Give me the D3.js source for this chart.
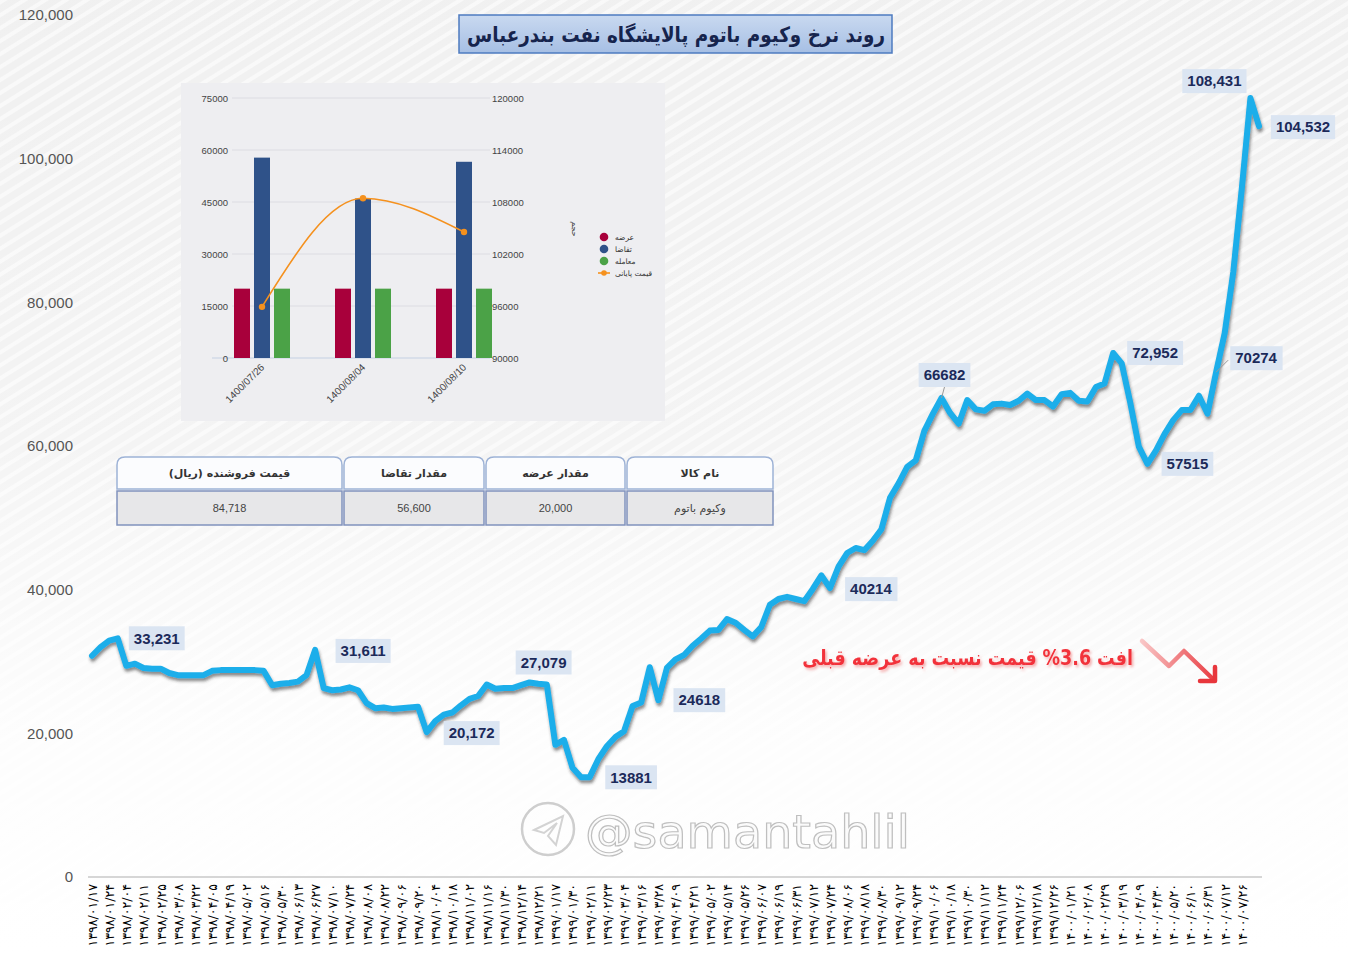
<!DOCTYPE html>
<html>
<head>
<meta charset="utf-8">
<script src="https://cdn.jsdelivr.net/npm/d3@7"></script>
<style>
  body { margin: 0; background: #fff; }
  svg { display: block; font-family: "Liberation Sans", Arial, sans-serif; }
</style>
</head>
<body>
<svg id="chart" width="1348" height="953"></svg>
<script>
// ---- data ----
let dates = [
  "1398/01/17","1398/01/24","1398/02/04","1398/02/11","1398/02/25","1398/03/08","1398/03/22","1398/04/05","1398/04/19",
  "1398/05/02","1398/05/16","1398/05/30","1398/06/13","1398/06/27","1398/07/10","1398/07/24","1398/08/08","1398/08/22",
  "1398/09/06","1398/09/20","1398/10/04","1398/10/18","1398/11/02","1398/11/16","1398/11/30","1398/12/14","1398/12/21",
  "1399/01/17","1399/01/30","1399/02/11","1399/02/23","1399/03/04","1399/03/16","1399/03/28","1399/04/09","1399/04/21",
  "1399/05/02","1399/05/14","1399/05/26","1399/06/07","1399/06/19","1399/06/31","1399/07/12","1399/07/24","1399/08/06",
  "1399/08/18","1399/08/30","1399/09/12","1399/09/24","1399/10/06","1399/10/18","1399/10/30","1399/11/12","1399/11/24",
  "1399/12/06","1399/12/18","1399/12/26",
  "1400/01/21","1400/02/08","1400/02/29","1400/03/19","1400/04/09","1400/04/30","1400/05/20","1400/06/10","1400/06/31",
  "1400/07/12","1400/07/26"
];

let prices = [
  30800, 32000, 32900, 33231, 29400, 29700, 29100, 29000, 29000, 28400,
  28100, 28100, 28100, 28100, 28700, 28800, 28800, 28800, 28800, 28800,
  28700, 26700, 26900, 27000, 27200, 28100, 31611, 26300, 26000, 26100,
  26400, 26000, 24200, 23500, 23600, 23400, 23500, 23600, 23700, 20172,
  21700, 22600, 22900, 23900, 24800, 25200, 26800, 26200, 26300, 26300,
  26700, 27079, 26900, 26800, 18400, 19100, 15200, 13881, 13900, 16400,
  18200, 19500, 20300, 23800, 24300, 29200, 24618, 29100, 30300, 30900,
  32200, 33200, 34300, 34400, 35900, 35400, 34400, 33500, 34800, 37900,
  38700, 39000, 38700, 38400, 40100, 42000, 40214, 43200, 45100, 45800,
  45500, 46800, 48400, 52800, 54800, 57100, 58000, 62100, 64500, 66682,
  64600, 63100, 66400, 65100, 64900, 65800, 65900, 65700, 66300, 67300,
  66400, 66400, 65500, 67200, 67400, 66300, 66200, 68200, 68700, 72952,
  71500, 66000, 59900, 57515, 59400, 61700, 63600, 65000, 65000, 67000,
  64500, 70274, 75700, 84200, 95900, 108431, 104532
];

let yTicks = [0, 20000, 40000, 60000, 80000, 100000, 120000];

let calloutIdx  = [3, 26, 39, 51, 57, 66, 86, 99, 119, 123, 131, 135, 136];
let calloutText = ["33,231","31,611","20,172","27,079","13881","24618","40214","66682","72,952","57515","70274","108,431","104,532"];

let insetDates = ["1400/07/26", "1400/08/04", "1400/08/10"];
let insetSeries = ["عرضه", "تقاضا", "معامله"];
let insetSupply = [20000, 20000, 20000];
let insetDemand = [57800, 46000, 56600];
let insetTraded = [20000, 20000, 20000];
let insetClose  = [95900, 108431, 104532];
let insetLeftTicks  = [0, 15000, 30000, 45000, 60000, 75000];
let insetRightTicks = [90000, 96000, 102000, 108000, 114000, 120000];
let insetLegend = ["عرضه", "تقاضا", "معامله", "قیمت پایانی"];

let tableHead = ["نام کالا", "مقدار عرضه", "مقدار تقاضا", "قیمت فروشنده (ریال)"];
let tableRow  = ["وکیوم باتوم", "20,000", "56,600", "84,718"];

let title = "روند نرخ وکیوم باتوم پالایشگاه نفت بندرعباس";
let noteHead = "افت";
let notePct = "%3.6";
let noteTail = "قیمت نسبت به عرضه قبلی";
let watermark = "@samantahlil";

// ---- layout ----
let calloutShift = [[39,0],[48,1],[45,1],[14,-20],[50,0],[41,0],[41,1],[3,-23],[42,0],[40,0],[40,-14],[-36,-17],[44,1]];
let colX = [627, 486, 344, 117];   // right-to-left columns
let colW = [146, 139, 140, 225];
let faFont = '"DejaVu Sans", sans-serif';
const fa = s => s.replace(/\d/g, d => "۰۱۲۳۴۵۶۷۸۹"[d]);

let svg = d3.select("#chart");
let defs = svg.append("defs");

// background stripes + fade
let pat = defs.append("pattern").attr("id", "stripes")
  .attr("patternUnits", "userSpaceOnUse").attr("width", 11).attr("height", 11)
  .attr("patternTransform", "rotate(-32)");
pat.append("rect").attr("width", 11).attr("height", 11).attr("fill", "#efefef");
pat.append("rect").attr("width", 11).attr("height", 4).attr("fill", "#f8f8f8");

let fade = defs.append("linearGradient").attr("id", "fade").attr("x1", 0).attr("y1", 0).attr("x2", 0).attr("y2", 1);
fade.append("stop").attr("offset", "0%").attr("stop-color", "#fff").attr("stop-opacity", 0.1);
fade.append("stop").attr("offset", "45%").attr("stop-color", "#fff").attr("stop-opacity", 0.3);
fade.append("stop").attr("offset", "75%").attr("stop-color", "#fff").attr("stop-opacity", 0.85);
fade.append("stop").attr("offset", "100%").attr("stop-color", "#fff").attr("stop-opacity", 1);

let titleGrad = defs.append("linearGradient").attr("id", "titleGrad").attr("x1", 0).attr("y1", 0).attr("x2", 0).attr("y2", 1);
titleGrad.append("stop").attr("offset", "0%").attr("stop-color", "#c9d9f0");
titleGrad.append("stop").attr("offset", "100%").attr("stop-color", "#a6bfe4");

let arrowGrad = defs.append("linearGradient").attr("id", "arrowGrad").attr("gradientUnits", "userSpaceOnUse")
  .attr("x1", 1140).attr("y1", 0).attr("x2", 1218).attr("y2", 0);
arrowGrad.append("stop").attr("offset", "0%").attr("stop-color", "#f9c9c9");
arrowGrad.append("stop").attr("offset", "100%").attr("stop-color", "#e8363c");

let shadow = defs.append("filter").attr("id", "shadow").attr("x", "-5%").attr("y", "-5%").attr("width", "110%").attr("height", "115%");
shadow.append("feDropShadow").attr("dx", 1).attr("dy", 3).attr("stdDeviation", 1.6)
  .attr("flood-color", "#333").attr("flood-opacity", 0.55);

let glow = defs.append("filter").attr("id", "glow");
glow.append("feDropShadow").attr("dx", 2).attr("dy", 2).attr("stdDeviation", 1.5)
  .attr("flood-color", "#f08a8a").attr("flood-opacity", 0.7);

svg.append("rect").attr("width", 1348).attr("height", 953).attr("fill", "url(#stripes)");
svg.append("rect").attr("width", 1348).attr("height", 953).attr("fill", "url(#fade)");

// ---- main scales ----
let x = d3.scaleLinear().domain([0, prices.length - 1]).range([92, 1259]);
let y = d3.scaleLinear().domain([0, 120000]).range([877, 15]);

// ---- inset chart ----
let inset = svg.append("g");
inset.append("rect").attr("x", 181).attr("y", 83).attr("width", 484).attr("height", 338).attr("fill", "#eeeef1");

let ix = d3.scaleBand().domain(insetDates).range([211.5, 514.5]);
let ixSub = d3.scaleBand().domain(insetSeries).range([-30, 30]).paddingInner(0.2).paddingOuter(0.1);
let iyL = d3.scaleLinear().domain([0, 75000]).range([358, 98]);
let iyR = d3.scaleLinear().domain([90000, 120000]).range([358, 98]);

inset.append("g").selectAll("line").data(insetLeftTicks.slice(1)).join("line")
  .attr("x1", 232).attr("x2", 490).attr("y1", d => iyL(d)).attr("y2", d => iyL(d))
  .attr("stroke", "#dcdce2").attr("stroke-width", 1);
inset.append("line").attr("x1", 212).attr("x2", 490).attr("y1", 358).attr("y2", 358)
  .attr("stroke", "#c3cfe4").attr("stroke-width", 1.2);

let gl = inset.append("g").attr("transform", "translate(228,0)")
  .call(d3.axisLeft(iyL).tickValues(insetLeftTicks).tickSize(0).tickPadding(0).tickFormat(d3.format("d")));
let gr = inset.append("g").attr("transform", "translate(492,0)")
  .call(d3.axisRight(iyR).tickValues(insetRightTicks).tickSize(0).tickPadding(0).tickFormat(d3.format("d")));
[gl, gr].forEach(g => {
  g.select(".domain").remove();
  g.attr("font-family", '"Liberation Sans", Arial, sans-serif').attr("font-size", 9.5);
  g.selectAll("text").attr("fill", "#444");
});

let barColors = ["#a8003b", "#2f5289", "#4ba247"];
let barSets = [insetSupply, insetDemand, insetTraded];
barSets.forEach((vals, s) => {
  inset.append("g").selectAll("rect").data(vals).join("rect")
    .attr("x", (d, i) => ix(insetDates[i]) + ix.bandwidth() / 2 + ixSub(insetSeries[s]))
    .attr("width", ixSub.bandwidth())
    .attr("y", d => iyL(d))
    .attr("height", d => 358 - iyL(d))
    .attr("fill", barColors[s]);
});

let iline = d3.line()
  .x((d, i) => ix(insetDates[i]) + ix.bandwidth() / 2)
  .y(d => iyR(d))
  .curve(d3.curveMonotoneX);
inset.append("path").attr("d", iline(insetClose)).attr("fill", "none").attr("stroke", "#f5911e").attr("stroke-width", 1.6);
inset.append("g").selectAll("circle").data(insetClose).join("circle")
  .attr("cx", (d, i) => ix(insetDates[i]) + ix.bandwidth() / 2).attr("cy", d => iyR(d))
  .attr("r", 3.2).attr("fill", "#f5911e");

inset.append("g").selectAll("text").data(insetDates).join("text")
  .attr("transform", d => "translate(" + (ix(d) + ix.bandwidth() / 2 + 3) + ",368) rotate(-45)")
  .attr("text-anchor", "end").attr("font-size", 10).attr("fill", "#444").text(d => d);

// legend
let legColors = ["#a8003b", "#2f5289", "#4ba247", "#f5911e"];
let leg = inset.append("g").attr("transform", "translate(604,237)");
insetLegend.forEach((t, i) => {
  let gy = i * 12;
  if (i < 3) {
    leg.append("circle").attr("cx", 0).attr("cy", gy).attr("r", 4.3).attr("fill", legColors[i]);
  } else {
    leg.append("line").attr("x1", -6).attr("x2", 6).attr("y1", gy).attr("y2", gy).attr("stroke", legColors[i]).attr("stroke-width", 1.6);
    leg.append("circle").attr("cx", 0).attr("cy", gy).attr("r", 2.8).attr("fill", legColors[i]);
  }
  leg.append("text").attr("x", 11).attr("y", gy).attr("dy", "0.35em")
    .attr("font-family", faFont).attr("font-size", 7.5).attr("fill", "#333").text(t);
});
inset.append("text").attr("transform", "translate(572,229) rotate(90)")
  .attr("text-anchor", "middle").attr("font-family", faFont).attr("font-size", 8).attr("fill", "#444").text("حجم");

// ---- table ----
let tbl = svg.append("g").attr("font-family", faFont);
tableHead.forEach((h, c) => {
  let cx = colX[c], w = colW[c];
  tbl.append("path")
    .attr("d", "M" + cx + ",489V" + 465 + "Q" + cx + ",457 " + (cx + 8) + ",457H" + (cx + w - 8) +
      "Q" + (cx + w) + ",457 " + (cx + w) + ",465V489Z")
    .attr("fill", "#fbfcfe").attr("stroke", "#9db2d6").attr("stroke-width", 1.5);
  tbl.append("text").attr("x", cx + w / 2).attr("y", 473).attr("dy", "0.35em")
    .attr("text-anchor", "middle").attr("font-size", 11).attr("font-weight", "bold").attr("fill", "#333").text(h);
  tbl.append("rect").attr("x", cx).attr("y", 491).attr("width", w).attr("height", 34)
    .attr("fill", "#e7e7e9").attr("stroke", "#8193bd").attr("stroke-width", 1.5);
  tbl.append("text").attr("x", cx + w / 2).attr("y", 508).attr("dy", "0.35em")
    .attr("text-anchor", "middle").attr("font-size", 11).attr("fill", "#444")
    .attr("font-family", c === 0 ? faFont : '"Liberation Sans", Arial, sans-serif').text(tableRow[c]);
});

// ---- title ----
svg.append("rect").attr("x", 459).attr("y", 15).attr("width", 433).attr("height", 38)
  .attr("fill", "url(#titleGrad)").attr("stroke", "#4d7bc0").attr("stroke-width", 1.5);
svg.append("text").attr("x", 676).attr("y", 35).attr("dy", "0.35em").attr("text-anchor", "middle")
  .attr("font-family", faFont).attr("font-size", 21).attr("font-weight", "bold").attr("fill", "#16244d")
  .attr("textLength", 418).attr("lengthAdjust", "spacingAndGlyphs")
  .text(title);

// ---- watermark ----
let wm = svg.append("g").attr("opacity", 0.9);
wm.append("circle").attr("cx", 548).attr("cy", 829).attr("r", 26).attr("fill", "none").attr("stroke", "#c9c9c9").attr("stroke-width", 2.5);
wm.append("path").attr("d", "M534,830L563,816L556,845L548,836L557,823L544,833Z")
  .attr("fill", "none").attr("stroke", "#cfcfcf").attr("stroke-width", 2);
wm.append("text").attr("x", 585).attr("y", 848).attr("font-family", '"DejaVu Sans", sans-serif')
  .attr("font-size", 46).attr("fill", "#fbfbfb").attr("stroke", "#b9b9b9").attr("stroke-width", 1.2)
  .attr("textLength", 325).attr("lengthAdjust", "spacingAndGlyphs").text(watermark);

// ---- axes ----
let xAxis = d3.axisBottom(x)
  .tickValues(dates.map((d, i) => i * 2))
  .tickFormat(i => fa(dates[i / 2]))
  .tickSize(0);
let gx = svg.append("g").attr("transform", "translate(0,877)").call(xAxis);
gx.select(".domain").attr("d", "M88,0H1262").attr("stroke", "#d6d6d6").attr("stroke-width", 2);
gx.attr("font-family", faFont).attr("font-size", 12.6);
gx.selectAll("text")
  .attr("transform", "rotate(-90)")
  .attr("x", -7).attr("y", 0).attr("dy", "0.35em")
  .style("text-anchor", "end")
  .attr("fill", "#000");

let yAxis = d3.axisLeft(y).tickValues(yTicks).tickFormat(d3.format(",")).tickSize(0).tickPadding(0);
let gyAx = svg.append("g").attr("transform", "translate(73,0)").call(yAxis);
gyAx.select(".domain").remove();
gyAx.attr("font-family", '"Liberation Sans", Arial, sans-serif').attr("font-size", 15);
gyAx.selectAll("text").attr("fill", "#555");

// ---- price line ----
let line = d3.line().x((d, i) => x(i)).y(d => y(d));
svg.append("path")
  .attr("d", line(prices))
  .attr("fill", "none")
  .attr("stroke", "#1eaeea")
  .attr("stroke-width", 6)
  .attr("stroke-linejoin", "round")
  .attr("stroke-linecap", "round")
  .attr("filter", "url(#shadow)");

// ---- callouts ----
let co = svg.append("g");
calloutIdx.forEach((idx, k) => {
  let px = x(idx), py = y(prices[idx]);
  let cx = px + calloutShift[k][0], cy = py + calloutShift[k][1];
  let g = co.append("g");
  if (k === 7 || k === 10) {
    g.append("line").attr("x1", px).attr("y1", py).attr("x2", k === 7 ? cx : cx - 28).attr("y2", k === 7 ? cy + 12 : cy + 2)
      .attr("stroke", "#999").attr("stroke-width", 1);
  }
  let t = g.append("text").attr("x", cx).attr("y", cy).attr("dy", "0.35em").attr("text-anchor", "middle")
    .attr("font-size", 15).attr("font-weight", "bold").attr("fill", "#1b2a5a").text(calloutText[k]);
  let bb = t.node().getBBox();
  g.insert("rect", "text").attr("x", bb.x - 5).attr("y", cy - 12).attr("width", bb.width + 10).attr("height", 24)
    .attr("fill", "#dbe5f2");
});

// ---- note + arrow (laid out right to left in pieces) ----
let noteG = svg.append("g").attr("font-family", faFont).attr("font-size", 21).attr("font-weight", "bold")
  .attr("fill", "#f2323b").attr("filter", "url(#glow)");
let nx = 1133;
[noteHead, notePct, noteTail].forEach((s, i) => {
  let t = noteG.append("text").attr("x", nx).attr("y", 658).attr("dy", "0.35em")
    .attr("text-anchor", "end").attr("direction", "ltr").text(s);
  nx -= t.node().getComputedTextLength() + 7;
});
let noteW = 1133 - nx - 7;
let k = 331 / noteW;
noteG.attr("transform", "translate(1133,0) scale(" + k + ",1) translate(-1133,0)");

svg.append("path").attr("d", "M1142,641L1169,666L1184,651L1214,680")
  .attr("fill", "none").attr("stroke", "url(#arrowGrad)").attr("stroke-width", 4.5)
  .attr("stroke-linejoin", "round").attr("stroke-linecap", "round");
svg.append("path").attr("d", "M1200,681L1215,681L1215,667")
  .attr("fill", "none").attr("stroke", "#e8363c").attr("stroke-width", 4.5)
  .attr("stroke-linejoin", "round").attr("stroke-linecap", "round");
</script>
</body>
</html>
